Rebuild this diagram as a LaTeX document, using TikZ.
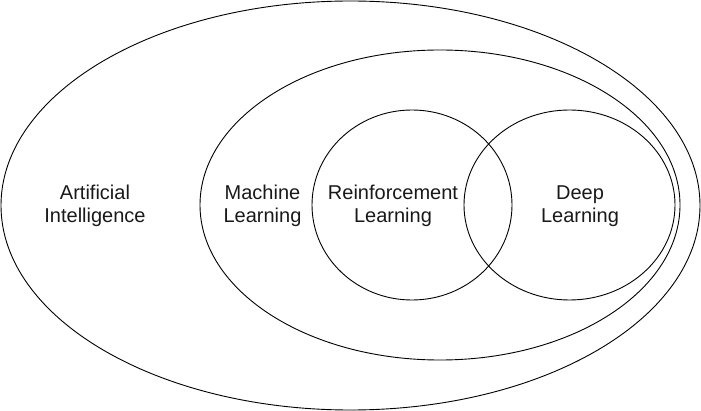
\documentclass[tikz,border=0pt]{standalone}
\usepackage{fontspec}
\setmainfont{Liberation Sans}
\begin{document}
\begin{tikzpicture}[x=1pt,y=-1pt,
  ring/.style={draw=black,line width=0.9pt},
  lbl/.style={align=center,font=\fontsize{20}{23}\selectfont,text=black!90,inner sep=0pt}]
\useasboundingbox (0,0) rectangle (701,411);
\draw[ring] (350.5,205.5) ellipse [x radius=349.5, y radius=204.5];
\draw[ring] (440,205) ellipse [x radius=240, y radius=155];
\draw[ring] (412,205) ellipse [x radius=100, y radius=95];
\draw[ring] (569.5,205) ellipse [x radius=105.5, y radius=95];
\node[lbl] (ai) at (95,206) {Artificial\\Intelligence};
\node[lbl] (ml) at (262.5,206) {Machine\\Learning};
\node[lbl] (rl) at (393,206) {Reinforcement\\Learning};
\node[lbl] (dl) at (580,206) {Deep\\Learning};
\end{tikzpicture}
\end{document}
